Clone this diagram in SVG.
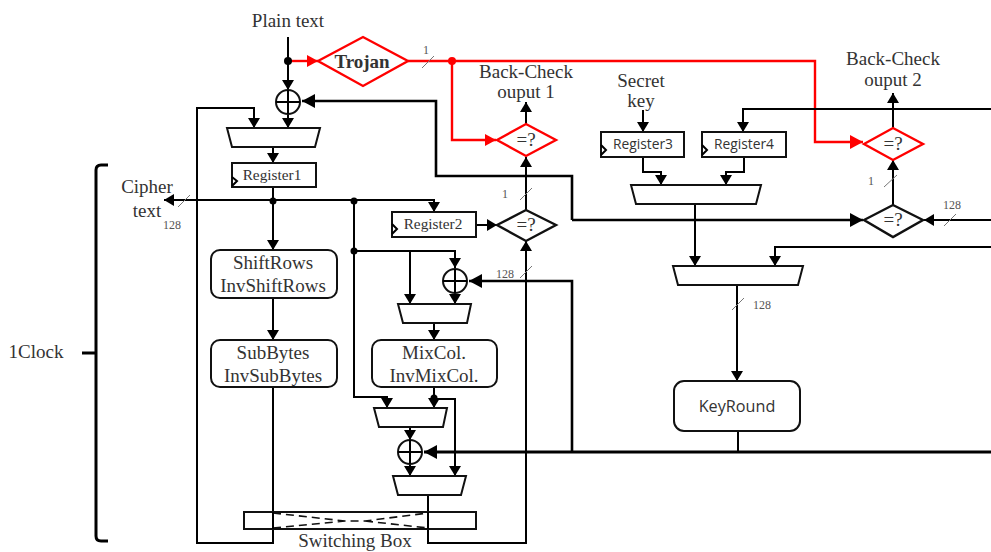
<svg xmlns="http://www.w3.org/2000/svg" width="991" height="552" viewBox="0 0 991 552">
<defs>
<marker id="ak" markerUnits="userSpaceOnUse" markerWidth="14" markerHeight="14" refX="10" refY="6" orient="auto"><path d="M0 0L10 6L0 12Z" fill="#000"/></marker>
<marker id="akb" markerUnits="userSpaceOnUse" markerWidth="16" markerHeight="16" refX="13" refY="7" orient="auto"><path d="M0 0L13 7L0 14Z" fill="#000"/></marker>
<marker id="ar" markerUnits="userSpaceOnUse" markerWidth="16" markerHeight="16" refX="11" refY="6" orient="auto"><path d="M0 0L11 6L0 12Z" fill="#f00"/></marker>
<marker id="arb" markerUnits="userSpaceOnUse" markerWidth="16" markerHeight="16" refX="13" refY="7" orient="auto"><path d="M0 0L13 7L0 14Z" fill="#f00"/></marker>
</defs>
<style>
text{font-family:"Liberation Serif",serif;font-size:19px;fill:#333;text-anchor:middle}
.s{font-size:12px;fill:#555}
.reg{font-size:15.3px}
.sans{font-family:"Open Sans","Liberation Sans",sans-serif;font-size:13.8px}
.key{font-family:"Open Sans","Liberation Sans",sans-serif;font-size:16.2px}
.box{fill:#fff;stroke:#111;stroke-width:2}
.rb{fill:#fff;stroke:#111;stroke-width:2}
.c{fill:none;stroke:#000;stroke-width:2}
.t{fill:none;stroke:#000;stroke-width:2.6}
.t3{fill:none;stroke:#000;stroke-width:3}
.r{fill:none;stroke:#f00;stroke-width:2.4}
.rd{fill:#fff;stroke:#f00;stroke-width:2.4}
.bd{fill:#fff;stroke:#111;stroke-width:2.4}
.sl{stroke:#777;stroke-width:1;fill:none}
.x{fill:#fff;stroke:#111;stroke-width:2}
</style>
<g id="connectors">
<path class="c" d="M288 37V90" marker-end="url(#ak)"/>
<path class="c" d="M288 114V128" marker-end="url(#ak)"/>
<path class="r" d="M288 61H318" marker-end="url(#ar)"/>
<path class="r" d="M408 61H815V142H863" marker-end="url(#arb)"/>
<path class="r" d="M452 61V140H496" marker-end="url(#ar)"/>
<path class="c" d="M526 124V102" marker-end="url(#ak)"/>
<path class="c" d="M526 210V157" marker-end="url(#ak)"/>
<path class="c" d="M476 225H497" marker-end="url(#ak)"/>
<path class="c" d="M273 147V163" marker-end="url(#ak)"/>
<path class="c" d="M273 388V543H197V108H254V128" marker-end="url(#ak)"/>
<path class="t" d="M572 220V176H436V101H302" marker-end="url(#akb)"/>
<path class="t" d="M572 220H863" marker-end="url(#akb)"/>
<path class="c" d="M273 187V250" marker-end="url(#ak)"/>
<path class="c" d="M273 200H164" marker-end="url(#ak)"/>
<path class="c" d="M273 200H434V212" marker-end="url(#ak)"/>
<path class="c" d="M273 298V340" marker-end="url(#ak)"/>
<path class="c" d="M354 201V397H387V408" marker-end="url(#ak)"/>
<path class="c" d="M354 251H455V268" marker-end="url(#ak)"/>
<path class="c" d="M410 251V304" marker-end="url(#ak)"/>
<path class="c" d="M455 293V304" marker-end="url(#ak)"/>
<path class="t" d="M572 452V281H469" marker-end="url(#akb)"/>
<path class="c" d="M434 323V340" marker-end="url(#ak)"/>
<path class="c" d="M434 387V408" marker-end="url(#ak)"/>
<path class="c" d="M434 399H455V476" marker-end="url(#ak)"/>
<path class="c" d="M410 427V440" marker-end="url(#ak)"/>
<path class="c" d="M410 464V476" marker-end="url(#ak)"/>
<path class="t3" d="M991 452H424" marker-end="url(#akb)"/>
<path class="c" d="M738 431V452"/>
<path class="c" d="M428 495V543H526V241" marker-end="url(#ak)"/>
<path class="c" d="M643 110V132" marker-end="url(#ak)"/>
<path class="c" d="M991 109H743V132" marker-end="url(#ak)"/>
<path class="c" d="M643 157V172H661V185" marker-end="url(#ak)"/>
<path class="c" d="M744 157V172H726V185" marker-end="url(#ak)"/>
<path class="c" d="M695 204V266" marker-end="url(#ak)"/>
<path class="c" d="M991 247H775V266" marker-end="url(#ak)"/>
<path class="c" d="M737 285V381" marker-end="url(#ak)"/>
<path class="c" d="M893 205V160" marker-end="url(#ak)"/>
<path class="c" d="M893 128V93" marker-end="url(#ak)"/>
<path class="c" d="M991 220H924" marker-end="url(#ak)"/>
<circle cx="288" cy="61" r="4"/>
<circle cx="452" cy="61" r="4" fill="#f00"/>
<circle cx="273" cy="201" r="3.5"/>
<circle cx="354" cy="201" r="3.5"/>
<circle cx="354" cy="251" r="3.5"/>
<circle cx="434" cy="398" r="3.5"/>
<path class="sl" d="M422 68L434 56M520 200L532 188M520 278L532 266M884 187L897 175M944 226L956 214M732 310L744 298M178 207L190 195"/>
</g>
<g id="trojan"><path class="rd" d="M318 61L363 37L408 61L363 86Z"/><text x="362" y="68" style="font-weight:bold">Trojan</text></g>
<g id="xor1"><circle class="x" cx="288" cy="102" r="12"/><path class="c" d="M276 102H300M288 90V114"/></g>
<g id="xor2"><circle class="x" cx="455" cy="281" r="12"/><path class="c" d="M443 281H467M455 269V293"/></g>
<g id="xor3"><circle class="x" cx="410" cy="452" r="12"/><path class="c" d="M398 452H422M410 440V464"/></g>
<g id="mux1"><path class="box" d="M227 128H320L315 147H232Z"/></g>
<g id="mux2"><path class="box" d="M398 304H471L467 323H403Z"/></g>
<g id="mux3"><path class="box" d="M374 408H447L443 427H379Z"/></g>
<g id="mux4"><path class="box" d="M393 476H466L461 495H398Z"/></g>
<g id="mux5"><path class="box" d="M631 185H761L756 204H636Z"/></g>
<g id="mux6"><path class="box" d="M673 266H803L798 285H678Z"/></g>
<g id="register1"><rect class="box" x="232" y="163" width="84" height="24"/><path class="c" d="M232 177L237 181L232 186"/><text class="reg" x="272" y="180">Register1</text></g>
<g id="register2"><rect class="box" x="392" y="212" width="84" height="25"/><path class="c" d="M392 224L397 229L392 234"/><text class="reg" x="433" y="229">Register2</text></g>
<g id="register3"><rect class="box" x="601" y="132" width="83" height="25"/><path class="c" d="M601 145L606 150L601 155"/><text class="sans" x="643" y="149">Register3</text></g>
<g id="register4"><rect class="box" x="702" y="132" width="84" height="25"/><path class="c" d="M702 145L707 150L702 155"/><text class="sans" x="744" y="149">Register4</text></g>
<g id="shiftrows"><rect class="rb" x="211" y="250" width="126" height="48" rx="9"/><text x="273" y="269">ShiftRows</text><text x="273" y="292">InvShiftRows</text></g>
<g id="subbytes"><rect class="rb" x="211" y="340" width="126" height="47" rx="9"/><text x="273" y="359">SubBytes</text><text x="273" y="382">InvSubBytes</text></g>
<g id="mixcol"><rect class="rb" x="372" y="340" width="125" height="47" rx="9"/><text x="434" y="359">MixCol.</text><text x="434" y="382">InvMixCol.</text></g>
<g id="keyround"><rect class="rb" x="674" y="381" width="126" height="50" rx="10"/><text class="key" x="737" y="412">KeyRound</text></g>
<g id="switching"><rect class="box" x="244" y="512" width="232" height="17"/><path d="M273 513L345 521L355 521L365 521L428 513M273 528L345 521M365 521L428 528" fill="none" stroke="#111" stroke-width="1.6" stroke-dasharray="8 5"/><path class="c" d="M273 512V529M428 512V529"/><text x="355" y="547">Switching Box</text></g>
<g id="check1"><path class="rd" d="M497 140L526 124L556 140L526 156Z"/><text x="526" y="146">=?</text></g>
<g id="check2"><path class="bd" d="M497 225L526 210L556 225L526 241Z"/><text x="526" y="231">=?</text></g>
<g id="check3"><path class="rd" d="M864 144L893 128L923 144L893 160Z"/><text x="893" y="150">=?</text></g>
<g id="check4"><path class="bd" d="M864 220L893 205L923 220L893 237Z"/><text x="893" y="226">=?</text></g>
<g id="brace"><path d="M108 165H101Q96 165 96 170V536Q96 541 101 541H108M82 353H96" fill="none" stroke="#000" stroke-width="3"/></g>
<g id="labels">
<text x="288" y="27">Plain text</text>
<text x="526" y="78">Back-Check</text><text x="526" y="98">ouput 1</text>
<text x="893" y="65">Back-Check</text><text x="893" y="86">ouput 2</text>
<text x="641" y="87">Secret</text><text x="641" y="107">key</text>
<text x="147" y="193">Cipher</text><text x="147" y="217">text</text>
<text x="36" y="358">1Clock</text>
<text class="s" x="172" y="229">128</text>
<text class="s" x="426" y="54">1</text>
<text class="s" x="505" y="198">1</text>
<text class="s" x="505" y="278">128</text>
<text class="s" x="871" y="185">1</text>
<text class="s" x="952" y="209">128</text>
<text class="s" x="762" y="309">128</text>
</g>
</svg>
